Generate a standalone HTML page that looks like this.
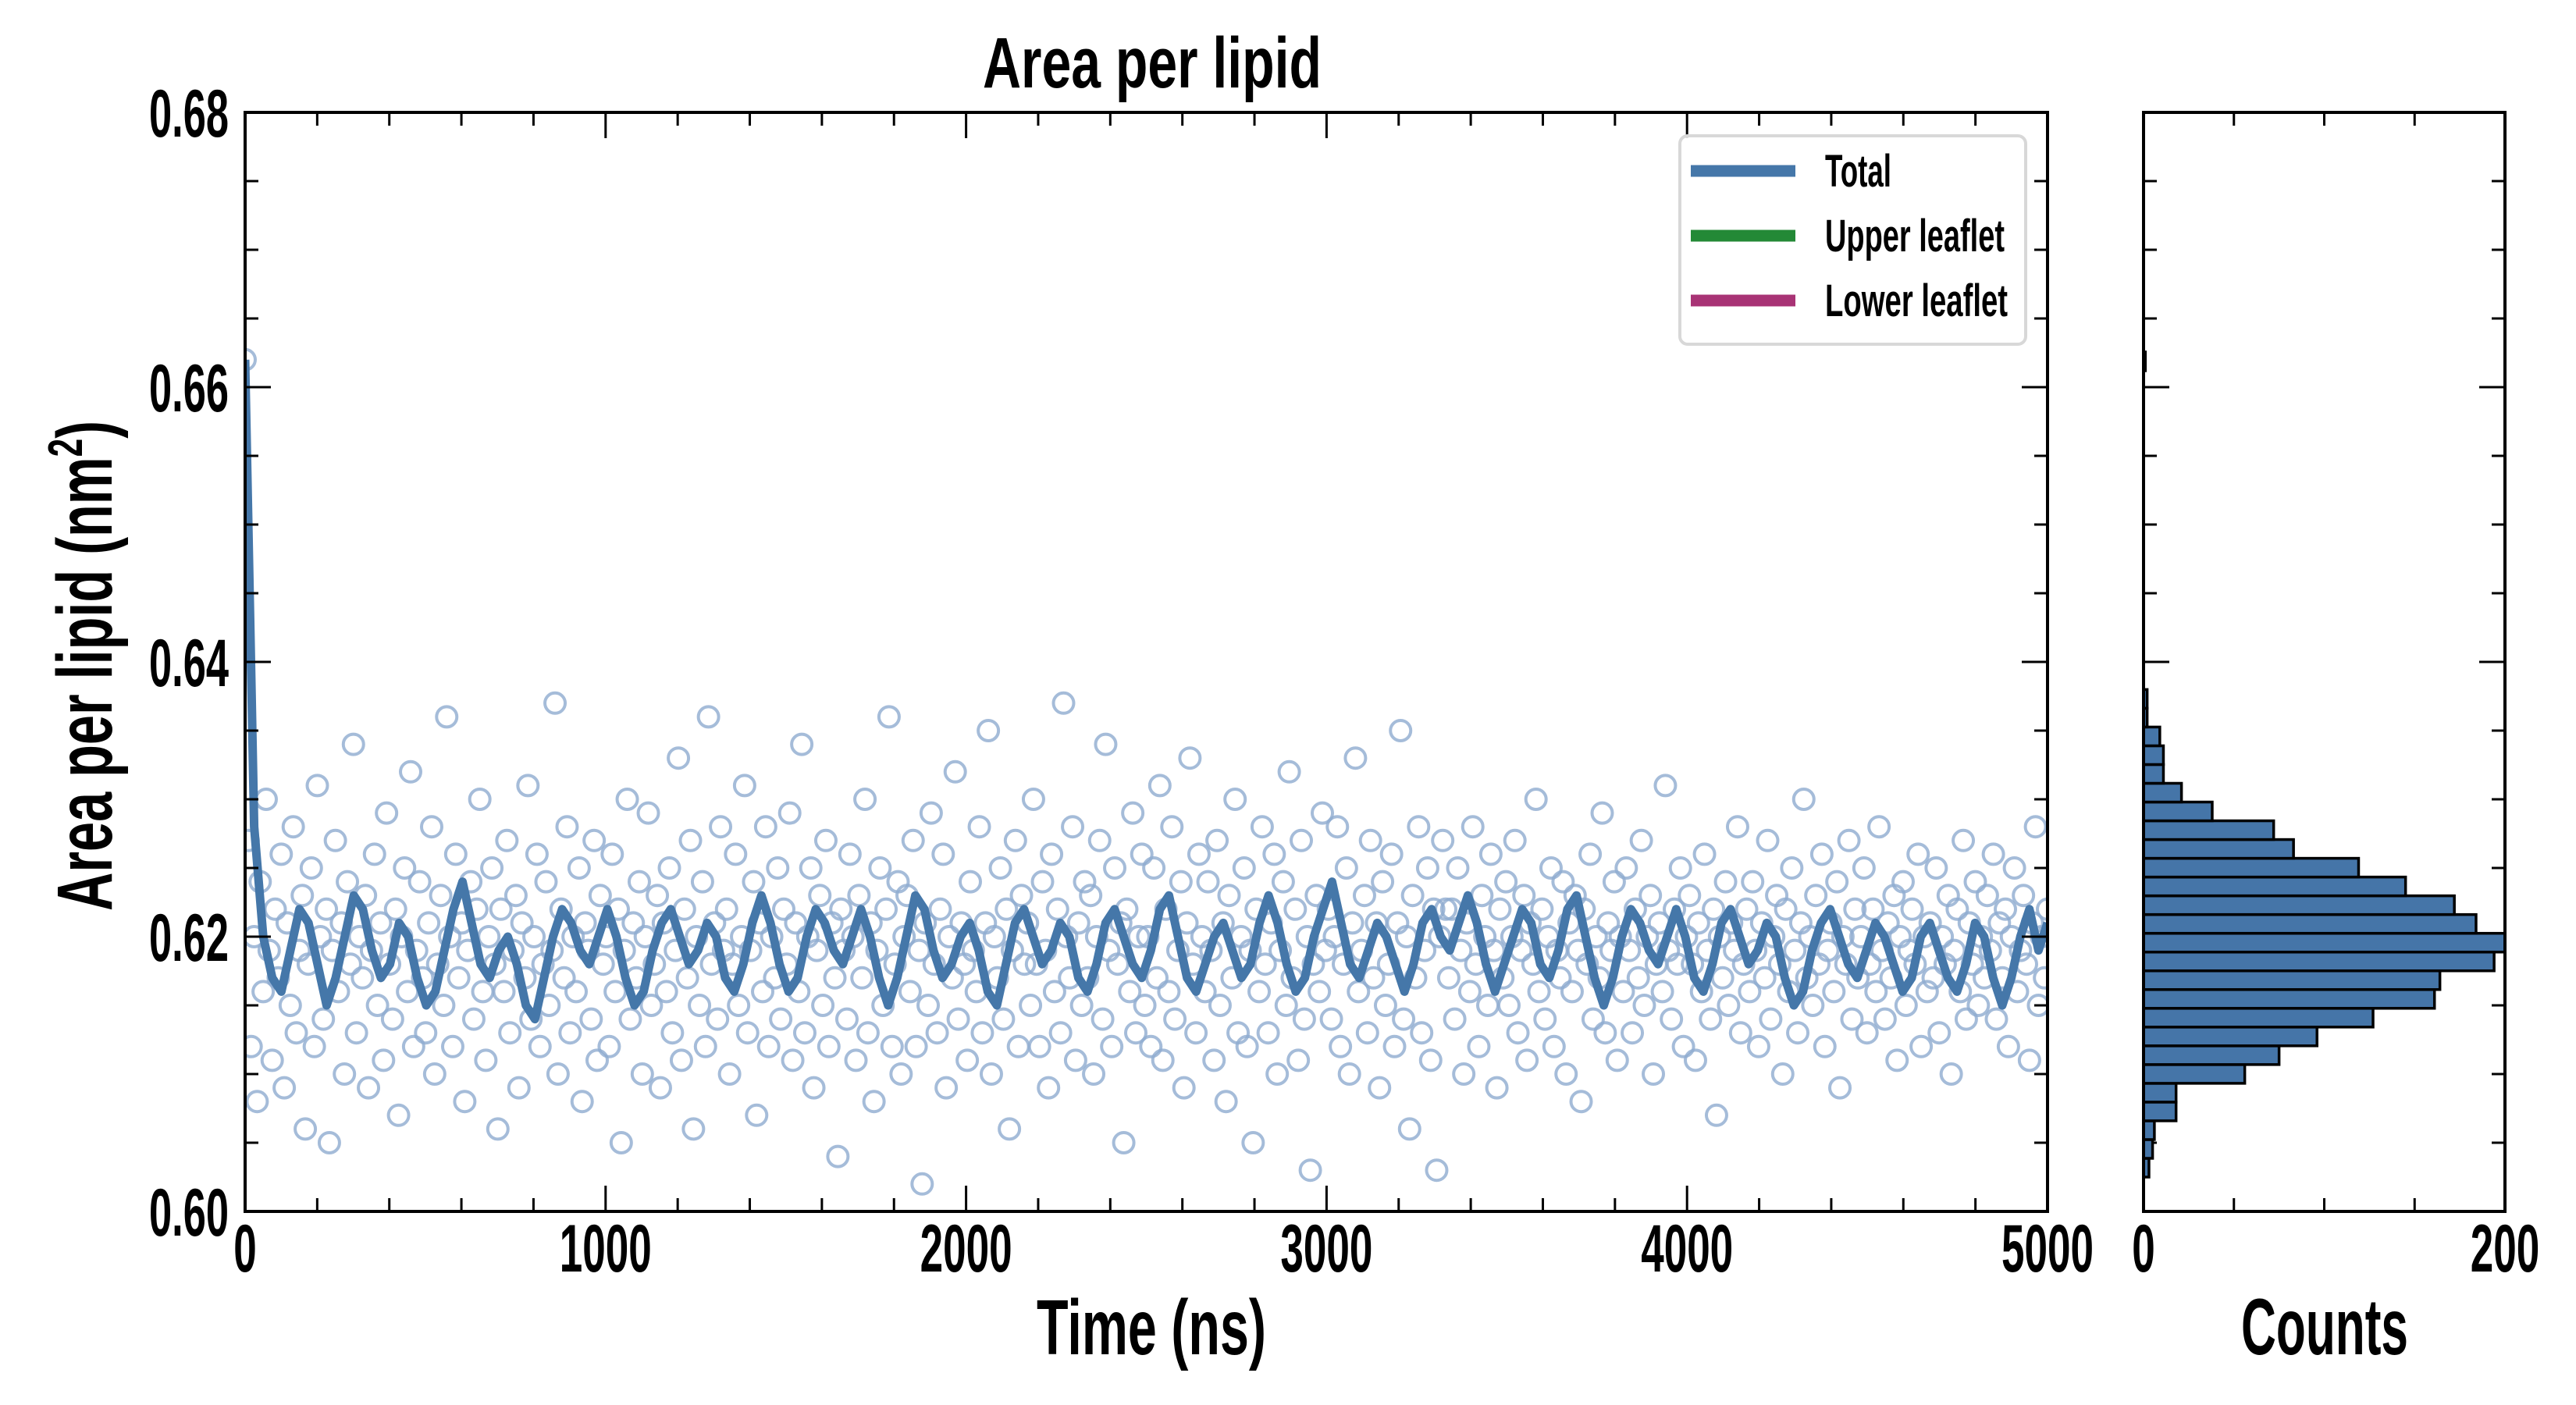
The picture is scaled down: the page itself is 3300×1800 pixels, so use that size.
<!DOCTYPE html>
<html><head><meta charset="utf-8"><title>Area per lipid</title>
<style>
html,body{margin:0;padding:0;background:#fff;}
svg{display:block;}
text{font-family:"Liberation Sans Narrow","Liberation Sans",sans-serif;font-weight:bold;fill:#000;}
</style></head>
<body>
<svg id="chart" width="3300" height="1800" viewBox="0 0 3300 1800" xmlns="http://www.w3.org/2000/svg">
  <text x="1476" y="112" font-size="92" text-anchor="middle" textLength="434" lengthAdjust="spacingAndGlyphs">Area per lipid</text>
  <text transform="translate(143,853) rotate(-90)" font-size="100" text-anchor="middle" textLength="628" lengthAdjust="spacingAndGlyphs">Area per lipid (nm<tspan font-size="62" dy="-38">2</tspan><tspan dy="38">)</tspan></text>
  <text x="1475" y="1735" font-size="100" text-anchor="middle" textLength="294" lengthAdjust="spacingAndGlyphs">Time (ns)</text>
  <text x="2978" y="1735" font-size="102" text-anchor="middle" textLength="214" lengthAdjust="spacingAndGlyphs">Counts</text>
  <g id="main"></g>
  <g id="hist"></g>
  <g>
    <rect x="2152" y="174" width="443" height="267" rx="10" fill="#fff" fill-opacity="0.85" stroke="#d8d8d8" stroke-width="4"/>
    <line x1="2166" x2="2300" y1="219" y2="219" stroke="#4577a9" stroke-width="15"/>
    <text x="2338" y="239" font-size="58" textLength="85" lengthAdjust="spacingAndGlyphs">Total</text>
    <line x1="2166" x2="2300" y1="302" y2="302" stroke="#238936" stroke-width="15"/>
    <text x="2338" y="322" font-size="58" textLength="230" lengthAdjust="spacingAndGlyphs">Upper leaflet</text>
    <text x="2338" y="405" font-size="58" textLength="234" lengthAdjust="spacingAndGlyphs">Lower leaflet</text>
    <line x1="2166" x2="2300" y1="385" y2="385" stroke="#a83375" stroke-width="15"/>
  </g>
</svg>
<script>
const scatterValues = [
0.662,0.627,0.612,0.620,0.608,0.624,0.616,0.630,0.619,0.611,0.622,0.617,0.626,0.609,0.621,0.615,0.628,0.613,0.619,0.623,
0.606,0.618,0.625,0.612,0.631,0.620,0.614,0.622,0.605,0.619,0.627,0.616,0.621,0.610,0.624,0.618,0.634,0.613,0.620,0.617,
0.623,0.609,0.619,0.626,0.615,0.621,0.611,0.629,0.618,0.614,0.622,0.607,0.620,0.625,0.616,0.632,0.612,0.619,0.624,0.617,
0.613,0.621,0.628,0.610,0.618,0.623,0.615,0.636,0.620,0.612,0.626,0.617,0.621,0.608,0.619,0.624,0.614,0.622,0.630,0.616,
0.611,0.620,0.625,0.618,0.606,0.622,0.616,0.627,0.613,0.619,0.623,0.609,0.621,0.617,0.631,0.614,0.620,0.626,0.612,0.618,
0.624,0.615,0.619,0.637,0.610,0.622,0.617,0.628,0.613,0.620,0.616,0.625,0.608,0.621,0.619,0.614,0.627,0.611,0.623,0.618,
0.620,0.612,0.626,0.616,0.622,0.605,0.619,0.630,0.614,0.621,0.617,0.624,0.610,0.620,0.629,0.615,0.618,0.623,0.609,0.621,
0.616,0.625,0.613,0.619,0.633,0.611,0.622,0.617,0.627,0.606,0.620,0.615,0.624,0.612,0.636,0.618,0.621,0.614,0.628,0.619,
0.622,0.610,0.618,0.626,0.615,0.620,0.631,0.613,0.619,0.624,0.607,0.621,0.616,0.628,0.612,0.620,0.617,0.625,0.614,0.622,
0.618,0.629,0.611,0.621,0.616,0.634,0.613,0.620,0.625,0.609,0.619,0.623,0.615,0.627,0.612,0.621,0.617,0.604,0.622,0.619,
0.614,0.626,0.620,0.611,0.623,0.617,0.630,0.613,0.621,0.608,0.619,0.625,0.615,0.622,0.636,0.612,0.618,0.624,0.610,0.620,
0.623,0.616,0.627,0.612,0.619,0.602,0.621,0.615,0.629,0.618,0.613,0.622,0.626,0.609,0.620,0.617,0.632,0.614,0.621,0.618,
0.611,0.624,0.619,0.616,0.628,0.613,0.621,0.635,0.610,0.620,0.617,0.625,0.614,0.622,0.606,0.619,0.627,0.612,0.623,0.618,
0.621,0.615,0.630,0.618,0.612,0.624,0.619,0.609,0.626,0.616,0.622,0.613,0.637,0.620,0.617,0.628,0.611,0.621,0.615,0.624,
0.617,0.623,0.610,0.620,0.627,0.614,0.634,0.619,0.612,0.625,0.618,0.621,0.605,0.622,0.616,0.629,0.613,0.620,0.626,0.615,
0.620,0.612,0.625,0.617,0.631,0.611,0.622,0.616,0.628,0.614,0.619,0.624,0.609,0.621,0.633,0.618,0.613,0.626,0.620,0.616,
0.624,0.619,0.611,0.627,0.615,0.621,0.608,0.623,0.617,0.630,0.613,0.620,0.625,0.612,0.619,0.605,0.622,0.616,0.628,0.618,
0.613,0.621,0.626,0.610,0.619,0.624,0.615,0.632,0.617,0.622,0.611,0.627,0.614,0.620,0.603,0.618,0.623,0.616,0.629,0.619,
0.622,0.614,0.620,0.628,0.612,0.618,0.625,0.610,0.621,0.633,0.616,0.619,0.623,0.613,0.627,0.617,0.621,0.609,0.624,0.615,
0.618,0.626,0.612,0.621,0.635,0.614,0.620,0.606,0.623,0.617,0.628,0.613,0.619,0.625,0.611,0.622,0.603,0.620,0.627,0.622,
0.617,0.622,0.614,0.625,0.619,0.610,0.621,0.616,0.628,0.618,0.612,0.623,0.620,0.615,0.626,0.619,0.609,0.622,0.617,0.624,
0.615,0.620,0.627,0.613,0.619,0.623,0.611,0.621,0.618,0.630,0.616,0.622,0.614,0.620,0.625,0.612,0.619,0.617,0.624,0.610,
0.621,0.616,0.623,0.619,0.608,0.622,0.618,0.626,0.614,0.620,0.617,0.629,0.613,0.621,0.619,0.624,0.611,0.620,0.616,0.625,
0.619,0.613,0.622,0.617,0.627,0.615,0.620,0.623,0.610,0.618,0.621,0.616,0.631,0.619,0.614,0.622,0.618,0.625,0.612,0.620,
0.623,0.618,0.611,0.621,0.616,0.626,0.619,0.614,0.622,0.607,0.620,0.617,0.624,0.615,0.621,0.619,0.628,0.613,0.618,0.622,
0.616,0.624,0.619,0.612,0.621,0.617,0.627,0.614,0.620,0.623,0.618,0.610,0.622,0.616,0.625,0.619,0.613,0.621,0.630,0.617,
0.620,0.615,0.623,0.618,0.626,0.612,0.619,0.621,0.616,0.624,0.609,0.620,0.618,0.627,0.614,0.622,0.617,0.620,0.625,0.613,
0.618,0.622,0.616,0.628,0.619,0.614,0.621,0.617,0.623,0.611,0.620,0.624,0.615,0.619,0.622,0.618,0.626,0.612,0.620,0.616,
0.621,0.617,0.625,0.613,0.620,0.618,0.623,0.610,0.619,0.622,0.616,0.627,0.614,0.621,0.618,0.624,0.615,0.620,0.617,0.623,
0.619,0.626,0.614,0.621,0.617,0.622,0.612,0.620,0.625,0.616,0.619,0.623,0.618,0.611,0.621,0.628,0.615,0.620,0.617,0.622
];
const lineValues = [
0.662,0.628,0.620,0.617,0.616,0.619,0.622,0.621,0.618,0.615,0.617,0.620,0.623,0.622,0.619,0.617,0.618,0.621,0.620,0.617,
0.615,0.616,0.619,0.622,0.624,0.621,0.618,0.617,0.619,0.620,0.618,0.615,0.614,0.617,0.620,0.622,0.621,0.619,0.618,0.620,
0.622,0.620,0.617,0.615,0.616,0.619,0.621,0.622,0.620,0.618,0.619,0.621,0.620,0.617,0.616,0.618,0.621,0.623,0.621,0.618,
0.616,0.617,0.620,0.622,0.621,0.619,0.618,0.620,0.622,0.620,0.617,0.615,0.617,0.620,0.623,0.622,0.619,0.617,0.618,0.620,
0.621,0.619,0.616,0.615,0.618,0.621,0.622,0.620,0.618,0.619,0.621,0.620,0.617,0.616,0.618,0.621,0.622,0.620,0.618,0.617,
0.619,0.622,0.623,0.620,0.617,0.616,0.618,0.620,0.621,0.619,0.617,0.618,0.621,0.623,0.621,0.618,0.616,0.617,0.620,0.622,
0.624,0.621,0.618,0.617,0.619,0.621,0.620,0.618,0.616,0.618,0.621,0.622,0.620,0.619,0.621,0.623,0.621,0.618,0.616,0.618,
0.620,0.622,0.621,0.618,0.617,0.619,0.622,0.623,0.620,0.617,0.615,0.617,0.620,0.622,0.621,0.619,0.618,0.620,0.622,0.620,
0.617,0.616,0.618,0.621,0.622,0.620,0.618,0.619,0.621,0.620,0.617,0.615,0.616,0.619,0.621,0.622,0.620,0.618,0.617,0.619,
0.621,0.620,0.618,0.616,0.617,0.620,0.621,0.619,0.617,0.616,0.618,0.621,0.620,0.617,0.615,0.617,0.620,0.622,0.619,0.621
];
const histCounts = [3,5,6,18,18,56,75,96,127,161,164,194,200,184,172,145,119,83,72,38,21,11,11,9,2,2,0,0,0,0,0,0,0,0,0,0,0,0,0,0,0,0,0,1];
const histBinStart = 0.6025;
const histBinWidth = 0.001365;
const xTickLabels = ["0","1000","2000","3000","4000","5000"];
const xTickValues = [0,1000,2000,3000,4000,5000];
const yTickLabels = ["0.60","0.62","0.64","0.66","0.68"];
const yTickValues = [0.60,0.62,0.64,0.66,0.68];
const histTickLabels = ["0","200"];
const histTickValues = [0,200];

const NS='http://www.w3.org/2000/svg';
const L=314,R=2623,T=144,B=1552,HL=2746,HR=3209;
const X0=0,X1=5000,Y0=0.60,Y1=0.68,C1=200;
const xs=v=>L+(v-X0)/(X1-X0)*(R-L);
const ys=v=>B-(v-Y0)/(Y1-Y0)*(B-T);
const hs=v=>HL+v/C1*(HR-HL);
function mk(tag,parent,attrs){const e=document.createElementNS(NS,tag);for(const k in attrs)e.setAttribute(k,attrs[k]);parent.appendChild(e);return e;}
const main=document.getElementById('main');
const hist=document.getElementById('hist');

const defs=mk('defs',main,{});
const cp=mk('clipPath',defs,{id:'clipMain'});
mk('rect',cp,{x:L,y:T,width:R-L,height:B-T});

const sg=mk('g',main,{'clip-path':'url(#clipMain)'});


scatterValues.forEach((v,i)=>{
  const c=mk('circle',sg,{cx:xs(i*(X1-X0)/(scatterValues.length-1)),cy:ys(v),r:13,fill:'none',stroke:'#8eabcf','stroke-opacity':0.8,'stroke-width':4});
  
  
});
let d='';
lineValues.forEach((v,i)=>{const x=xs(i*(X1-X0)/(lineValues.length-1));d+=(i?'L':'M')+x.toFixed(1)+','+ys(v).toFixed(1);});
const ln=mk('path',main,{d:d,fill:'none',stroke:'#4577a9','stroke-width':11,'stroke-linejoin':'round','clip-path':'url(#clipMain)'});



histCounts.forEach((c,i)=>{
  if(c<=0)return;
  const lo=histBinStart+i*histBinWidth, hi=lo+histBinWidth;
  const r=mk('rect',hist,{x:HL,y:ys(hi),width:hs(c)-HL,height:ys(lo)-ys(hi),fill:'#4575a8',stroke:'#000','stroke-width':3.5});
  
  
});

function frame(parent,x1,x2,name){
  const f=mk('rect',parent,{x:x1,y:T,width:x2-x1,height:B-T,fill:'none',stroke:'#000','stroke-width':4});
  
  
}
function tick(parent,x1,y1,x2,y2){mk('line',parent,{x1:x1,y1:y1,x2:x2,y2:y2,stroke:'#000','stroke-width':3});}
frame(main,L,R,'main-axes-frame');
frame(hist,HL,HR,'hist-axes-frame');
const tg=mk('g',main,{});


for(let k=0;k<=16;k++){
  const v=Y0+k*0.005, y=ys(v), len=(k%4===0)?33:17;
  tick(tg,L,y,L+len,y); tick(tg,R,y,R-len,y);
  tick(tg,HL,y,HL+len,y); tick(tg,HR,y,HR-len,y);
}
for(let k=0;k<=25;k++){
  const x=xs(k*200), len=(k%5===0)?33:17;
  tick(tg,x,B,x,B-len); tick(tg,x,T,x,T+len);
}
for(let k=0;k<=4;k++){
  const x=hs(k*50), len=(k%4===0)?33:17;
  tick(tg,x,B,x,B-len); tick(tg,x,T,x,T+len);
}
const lg=document.getElementById('chart');
yTickLabels.forEach((s,i)=>{
  const t=mk('text',lg,{x:293,y:ys(yTickValues[i])+31,'font-size':86,'text-anchor':'end',textLength:102,lengthAdjust:'spacingAndGlyphs'});
  t.textContent=s;
  
  
});
xTickLabels.forEach((s,i)=>{
  const t=mk('text',lg,{x:xs(xTickValues[i]),y:1629,'font-size':86,'text-anchor':'middle',textLength:s.length*29.5,lengthAdjust:'spacingAndGlyphs'});
  t.textContent=s;
  
  
});
histTickLabels.forEach((s,i)=>{
  const t=mk('text',lg,{x:hs(histTickValues[i]),y:1629,'font-size':86,'text-anchor':'middle',textLength:s.length*29.5,lengthAdjust:'spacingAndGlyphs'});
  t.textContent=s;
  
  
});
</script>
</body></html>
